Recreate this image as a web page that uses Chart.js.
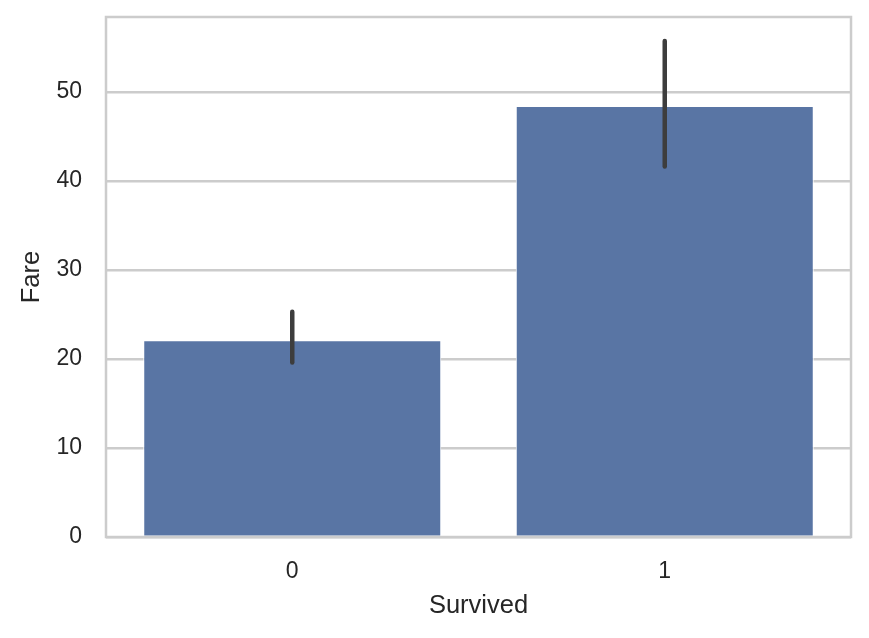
<!DOCTYPE html>
<html lang="en">
<head>
  <meta charset="UTF-8" />
  <title>Fare by Survived</title>
  <script src="https://cdn.jsdelivr.net/npm/chart.js"></script>
  <style>
    html, body { margin: 0; padding: 0; background: #ffffff; }
    canvas { display: block; }
  </style>
</head>
<body>
  <canvas id="barChart" width="869" height="638"></canvas>

  <script>
    // data
    const categories = ["0", "1"];
    const meanFare = [22.1, 48.4];
    const ciLow = [19.6, 41.6];
    const ciHigh = [25.3, 55.7];
    const yTicks = [0, 10, 20, 30, 40, 50];

    const gridColor = "#cccccc";
    const textColor = "#262626";
    const fontFamily = "'Liberation Sans', Arial, sans-serif";

    // error bars + top/right spines
    const extras = {
      id: "extras",
      afterDatasetsDraw(chart) {
        const ctx = chart.ctx;
        const x = chart.scales.x, y = chart.scales.y;
        ctx.save();
        ctx.strokeStyle = "#3d3d3d";
        ctx.lineWidth = 4.5;
        ctx.lineCap = "round";
        categories.forEach((c, i) => {
          const px = x.getPixelForValue(i);
          ctx.beginPath();
          ctx.moveTo(px, y.getPixelForValue(ciLow[i]));
          ctx.lineTo(px, y.getPixelForValue(ciHigh[i]));
          ctx.stroke();
        });
        const a = chart.chartArea;
        ctx.strokeStyle = gridColor;
        ctx.lineWidth = 2.5;
        ctx.lineCap = "butt";
        ctx.strokeRect(a.left, a.top, a.right - a.left, a.bottom - a.top);
        ctx.restore();
      }
    };

    Chart.defaults.font.family = fontFamily;
    Chart.defaults.color = textColor;

    function noPad(scale) {
      scale.paddingTop = 0;
      scale.paddingBottom = 0;
      scale.paddingLeft = 0;
      scale.paddingRight = 0;
    }

    new Chart(document.getElementById("barChart").getContext("2d"), {
      type: "bar",
      data: {
        labels: categories,
        datasets: [{
          label: "Fare",
          data: meanFare,
          backgroundColor: "#5975a4",
          borderColor: "#ffffff",
          borderWidth: 1,
          categoryPercentage: 1.0,
          barPercentage: 0.8
        }]
      },
      options: {
        responsive: false,
        devicePixelRatio: 1,
        animation: false,
        layout: { padding: { left: 0, right: 18, top: 17, bottom: 0 } },
        plugins: { legend: { display: false }, tooltip: { enabled: false } },
        scales: {
          x: {
            grid: { display: false, drawTicks: false },
            border: { display: false },
            ticks: { font: { size: 23 }, color: textColor, padding: 21 },
            title: { display: true, text: "Survived", font: { size: 25.5 }, color: textColor, padding: { top: 4, bottom: 17 } },
            afterFit(scale) { scale.height = 101; noPad(scale); }
          },
          y: {
            min: 0,
            max: 58.4,
            grid: { color: gridColor, lineWidth: 2.5, drawTicks: false },
            border: { display: false },
            ticks: { font: { size: 23 }, color: textColor, padding: 24 },
            afterBuildTicks(scale) { scale.ticks = yTicks.map(v => ({ value: v })); },
            title: { display: true, text: "Fare", font: { size: 25.5 }, color: textColor, padding: { top: 17, bottom: 0 } },
            afterFit(scale) { scale.width = 106; noPad(scale); }
          }
        }
      },
      plugins: [extras]
    });
  </script>
</body>
</html>
